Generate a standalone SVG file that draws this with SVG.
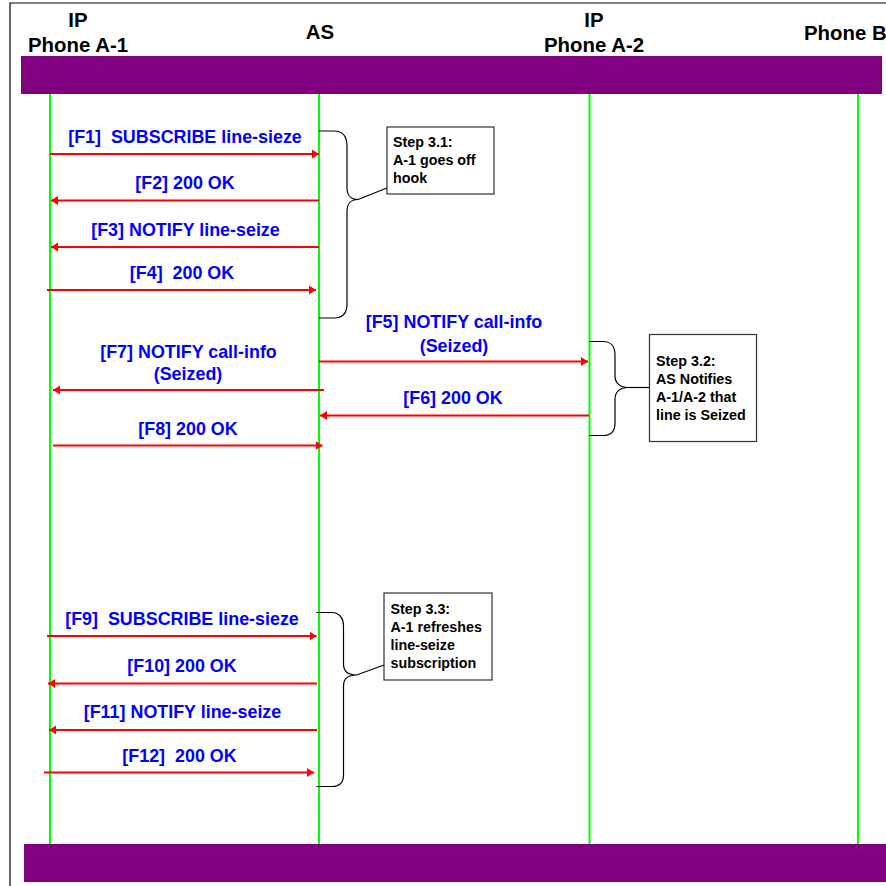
<svg xmlns="http://www.w3.org/2000/svg" width="886" height="886" viewBox="0 0 886 886">
<style>
.hdr{font-family:"Liberation Sans",Arial,sans-serif;font-weight:bold;font-size:20.4px;fill:#000}
.msg{font-family:"Liberation Sans",Arial,sans-serif;font-weight:bold;font-size:17.9px;fill:#0000ff;text-anchor:middle}
.note{font-family:"Liberation Sans",Arial,sans-serif;font-weight:bold;font-size:14.3px;fill:#000}
.life{stroke:#00ff00;stroke-width:2;fill:none}
.arr{stroke:#ff0000;stroke-width:2;fill:none;marker-end:url(#ah)}
.brace{stroke:#000;stroke-width:1.2;fill:none}
.box{fill:#fff;stroke:#333;stroke-width:1.2}
.bar{fill:#800080}
</style>
<defs>
<marker id="ah" markerUnits="userSpaceOnUse" markerWidth="8" markerHeight="10" refX="7" refY="5" orient="auto">
<path d="M0,0.5 L7,5 L0,9.5 Z" fill="#ff0000"/>
</marker>
</defs>
<rect width="886" height="886" fill="#fff"/>
<path d="M10,886 V3 H886" stroke="#000" stroke-width="1.2" fill="none"/>

<g id="header">
<rect class="bar" x="21" y="56" width="861" height="38"/>
<rect class="bar" x="24" y="844" width="862" height="38"/>
</g>

<g id="node-a1">
<text class="hdr" x="78" y="27" text-anchor="middle">IP</text>
<text class="hdr" x="78" y="52" text-anchor="middle">Phone A-1</text>
<line class="life" x1="50" y1="94" x2="50" y2="844"/>
</g>
<g id="node-as">
<text class="hdr" x="320" y="39" text-anchor="middle">AS</text>
<line class="life" x1="319" y1="94" x2="319" y2="844"/>
</g>
<g id="node-a2">
<text class="hdr" x="594" y="27" text-anchor="middle">IP</text>
<text class="hdr" x="594" y="52" text-anchor="middle">Phone A-2</text>
<line class="life" x1="589.5" y1="94" x2="589.5" y2="844"/>
</g>
<g id="node-b">
<text class="hdr" x="804" y="40">Phone B</text>
<line class="life" x1="858" y1="94" x2="858" y2="844"/>
</g>

<g id="connectors">
<line class="arr" x1="50" y1="154" x2="319" y2="154"/>
<line class="arr" x1="319" y1="200.5" x2="51" y2="200.5"/>
<line class="arr" x1="319" y1="247" x2="51" y2="247"/>
<line class="arr" x1="47" y1="290" x2="316" y2="290"/>
<line class="arr" x1="319" y1="361.5" x2="588" y2="361.5"/>
<line class="arr" x1="324" y1="390" x2="53" y2="390"/>
<line class="arr" x1="589" y1="415.5" x2="320" y2="415.5"/>
<line class="arr" x1="53" y1="445.5" x2="322.5" y2="445.5"/>
<line class="arr" x1="47" y1="636" x2="316.5" y2="636"/>
<line class="arr" x1="317" y1="683.5" x2="48" y2="683.5"/>
<line class="arr" x1="317" y1="730" x2="49" y2="730"/>
<line class="arr" x1="44" y1="772.5" x2="314" y2="772.5"/>
</g>

<g id="labels">
<text class="msg" x="185" y="143" xml:space="preserve">[F1]  SUBSCRIBE line-sieze</text>
<text class="msg" x="185" y="189">[F2] 200 OK</text>
<text class="msg" x="185.5" y="236">[F3] NOTIFY line-seize</text>
<text class="msg" x="182" y="279" xml:space="preserve">[F4]  200 OK</text>
<text class="msg" x="454" y="328">[F5] NOTIFY call-info</text>
<text class="msg" x="454" y="351.5">(Seized)</text>
<text class="msg" x="188.5" y="357.5">[F7] NOTIFY call-info</text>
<text class="msg" x="188" y="380">(Seized)</text>
<text class="msg" x="453" y="404">[F6] 200 OK</text>
<text class="msg" x="188" y="435">[F8] 200 OK</text>
<text class="msg" x="182" y="625" xml:space="preserve">[F9]  SUBSCRIBE line-sieze</text>
<text class="msg" x="182" y="671.5">[F10] 200 OK</text>
<text class="msg" x="182.5" y="718">[F11] NOTIFY line-seize</text>
<text class="msg" x="179.5" y="761.5" xml:space="preserve">[F12]  200 OK</text>
</g>

<g id="step31">
<path class="brace" d="M319,131 H334 C343,131 347,137 347,146 V188 C347,195 351,199.5 358,199.5 C351,199.5 347,204 347,211 V304 C347,313 343,318 334,318 H319"/>
<line class="brace" x1="358" y1="199.5" x2="387" y2="188"/>
<rect class="box" x="387" y="127" width="107" height="67"/>
<text class="note" x="393" y="146.5">Step 3.1:</text>
<text class="note" x="393" y="165">A-1 goes off</text>
<text class="note" x="393" y="182.5">hook</text>
</g>

<g id="step32">
<path class="brace" d="M589.5,341.5 H603 C611,341.5 615,347 615,355 V376 C615,383 620,387.5 628,387.5 C620,387.5 615,392 615,399 V423 C615,431 611,435.5 603,435.5 H589.5"/>
<line class="brace" x1="628" y1="387.5" x2="649.5" y2="387.5"/>
<rect class="box" x="649.5" y="334.5" width="107" height="107"/>
<text class="note" x="656" y="365.5">Step 3.2:</text>
<text class="note" x="656" y="383.5">AS Notifies</text>
<text class="note" x="656" y="401.5">A-1/A-2 that</text>
<text class="note" x="656" y="419.5">line is Seized</text>
</g>

<g id="step33">
<path class="brace" d="M316.5,612.5 H332 C339,612.5 343.5,618 343.5,626 V664 C343.5,671 348,675 356.5,675 C348,675 343.5,679 343.5,686 V775 C343.5,783 339,786.5 332,786.5 H316.5"/>
<line class="brace" x1="356.5" y1="675" x2="384" y2="665"/>
<rect class="box" x="384" y="593" width="108" height="87"/>
<text class="note" x="390.5" y="614">Step 3.3:</text>
<text class="note" x="390.5" y="632">A-1 refreshes</text>
<text class="note" x="390.5" y="649.5">line-seize</text>
<text class="note" x="390.5" y="667.5">subscription</text>
</g>
</svg>
